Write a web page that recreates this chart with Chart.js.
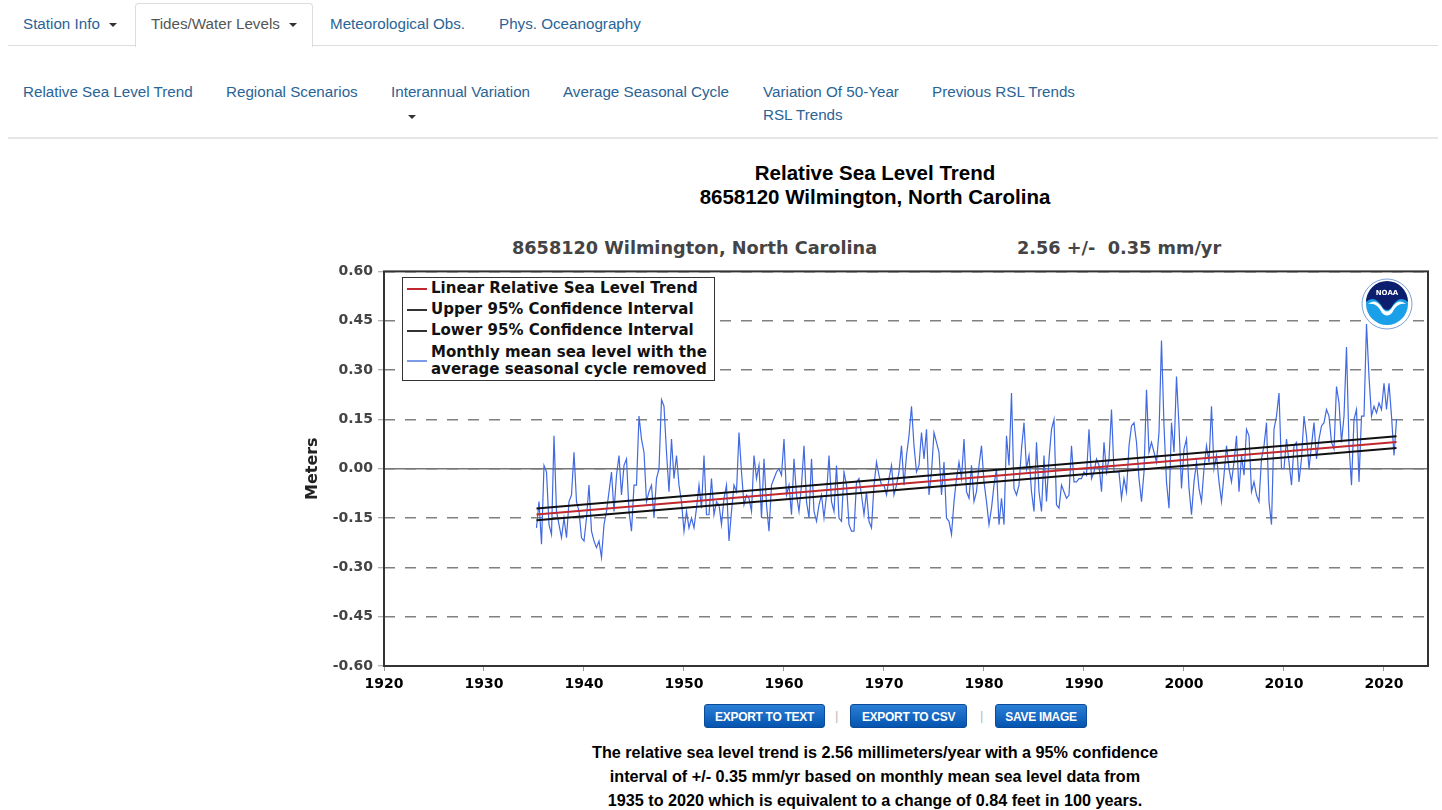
<!DOCTYPE html>
<html>
<head>
<meta charset="utf-8">
<title>Relative Sea Level Trend - 8658120 Wilmington, North Carolina</title>
<script src="https://cdn.jsdelivr.net/npm/chart.js@4.4.0/dist/chart.umd.min.js"></script>
<style>
    body { margin: 0; width: 1442px; height: 810px; position: relative; overflow: hidden; background: #fff;
           font-family: "Liberation Sans", Arial, Helvetica, sans-serif; }
    .abs { position: absolute; white-space: nowrap; }
    .nav { font-size: 15.2px; line-height: 16px; color: #2a6496; }
    .caret { position: absolute; width: 0; height: 0; border-left: 4px solid transparent;
             border-right: 4px solid transparent; border-top: 4px solid #333; }
    .rule { position: absolute; left: 8px; width: 1430px; }
    .tab { position: absolute; left: 135px; top: 3px; width: 176px; height: 43px; background: #fff;
           border: 1px solid #ddd; border-bottom: none; border-radius: 4px 4px 0 0; z-index: 2; }
    .ptitle { position: absolute; left: 475px; width: 800px; text-align: center; font-weight: bold;
              font-size: 20.5px; line-height: 22px; color: #000; }
    .sub { font-family: "DejaVu Sans", sans-serif; font-weight: bold; font-size: 17.7px; line-height: 20px; color: #444; white-space: pre; }
    #chartBox { position: absolute; left: 290px; top: 258px; width: 1150px; height: 440px; }
    #legendBox { position: absolute; left: 402px; top: 277px; width: 311px; height: 102px; background: #fff;
                 border: 1.5px solid #333; z-index: 3; font-family: "DejaVu Sans", sans-serif;
                 font-weight: bold; font-size: 15px; color: #111; }
    .lg { position: absolute; left: 28px; line-height: 17px; white-space: nowrap; }
    .sw { position: absolute; left: 4px; width: 20px; height: 2px; }
    #logo { position: absolute; left: 1361px; top: 278px; z-index: 3; }
    .btn { position: absolute; top: 704px; height: 24px; line-height: 24px; text-align: center; color: #fff;
           font-size: 12px; font-weight: bold; border-radius: 3px; letter-spacing: -0.3px;
           background: linear-gradient(#2b7fd6, #0454b0); border: 1px solid #0a4a98; box-sizing: border-box; }
    .sep { position: absolute; top: 708px; color: #bbb; font-size: 13px; }
    .note { position: absolute; left: 475px; width: 800px; top: 740px; text-align: center; font-weight: bold;
            font-size: 16.2px; line-height: 24px; color: #000; }
</style>
</head>
<body>

<!-- top navigation -->
<div class="rule" style="top:45px;height:1px;background:#ddd;"></div>
<div class="tab"></div>
<div class="abs nav" style="left:23px;top:16px;">Station Info</div>
<div class="caret" style="left:109px;top:23px;"></div>
<div class="abs nav" style="left:151px;top:16px;color:#555;z-index:3;">Tides/Water Levels</div>
<div class="caret" style="left:289px;top:23px;z-index:3;"></div>
<div class="abs nav" style="left:330px;top:16px;">Meteorological Obs.</div>
<div class="abs nav" style="left:499px;top:16px;">Phys. Oceanography</div>

<div class="abs nav" style="left:23px;top:84px;">Relative Sea Level Trend</div>
<div class="abs nav" style="left:226px;top:84px;">Regional Scenarios</div>
<div class="abs nav" style="left:391px;top:84px;">Interannual Variation</div>
<div class="caret" style="left:408px;top:115px;"></div>
<div class="abs nav" style="left:563px;top:84px;">Average Seasonal Cycle</div>
<div class="abs nav" style="left:763px;top:84px;">Variation Of 50-Year</div>
<div class="abs nav" style="left:763px;top:107px;">RSL Trends</div>
<div class="abs nav" style="left:932px;top:84px;">Previous RSL Trends</div>
<div class="rule" style="top:137px;height:2px;background:#e6e6e6;"></div>

<!-- page title -->
<div class="ptitle" style="top:162px;">Relative Sea Level Trend</div>
<div class="ptitle" style="top:186px;">8658120 Wilmington, North Carolina</div>

<!-- chart header -->
<div class="abs sub" style="left:512px;top:238px;">8658120 Wilmington, North Carolina</div>
<div class="abs sub" style="left:1017px;top:238px;">2.56 +/-  0.35 mm/yr</div>

<div id="chartBox"><canvas id="slrChart"></canvas></div>

<!-- legend inside the plot -->
<div id="legendBox">
    <div class="sw" style="top:10px;background:#c0282d;"></div>
    <div class="lg" style="top:2px;">Linear Relative Sea Level Trend</div>
    <div class="sw" style="top:31px;background:#333;"></div>
    <div class="lg" style="top:23px;">Upper 95% Confidence Interval</div>
    <div class="sw" style="top:52px;background:#333;"></div>
    <div class="lg" style="top:44px;">Lower 95% Confidence Interval</div>
    <div class="sw" style="top:82px;background:#7a9be8;"></div>
    <div class="lg" style="top:66px;">Monthly mean sea level with the<br>average seasonal cycle removed</div>
</div>

<!-- NOAA emblem -->
<svg id="logo" width="52" height="52" viewBox="0 0 52 52">
    <circle cx="26" cy="26" r="25" fill="#fff" stroke="#7aa0d8" stroke-width="1"/>
    <circle cx="26" cy="26" r="21" fill="#1aa0e8"/>
    <path d="M5 24 A21 21 0 0 1 47 24 Q38 16 30 30 Q26 34 22 30 Q14 16 5 24 Z" fill="#0b1f6e"/>
    <path d="M7 26 Q15 19 22 31 Q26 36 30 31 Q37 19 45 26 Q36 24 31 35 Q26 40 21 35 Q16 24 7 26 Z" fill="#fff"/>
    <text x="26" y="17" text-anchor="middle" font-family="DejaVu Sans" font-weight="bold" font-size="7" fill="#fff">NOAA</text>
</svg>

<!-- buttons -->
<div class="btn" style="left:704px;width:121px;">EXPORT TO TEXT</div>
<div class="sep" style="left:835px;">|</div>
<div class="btn" style="left:850px;width:117px;">EXPORT TO CSV</div>
<div class="sep" style="left:980px;">|</div>
<div class="btn" style="left:995px;width:92px;">SAVE IMAGE</div>

<div class="note">The relative sea level trend is 2.56 millimeters/year with a 95% confidence<br>interval of +/- 0.35 mm/yr based on monthly mean sea level data from<br>1935 to 2020 which is equivalent to a change of 0.84 feet in 100 years.</div>

<script>
// =====================================================
// Data
// =====================================================
const obsStartYear = 1935.25;   // first sample
const obsStepYears = 0.25;      // one value per quarter year

// Monthly mean sea level, seasonal cycle removed (meters), sampled per quarter
const seaLevel = [
    -0.18, -0.10, -0.23,  0.01, -0.01, -0.17, -0.20,  0.10, -0.13, -0.17,
    -0.21, -0.15, -0.21, -0.10, -0.08,  0.05, -0.10, -0.13, -0.21, -0.22,
    -0.15, -0.05, -0.19, -0.22, -0.24, -0.22, -0.27, -0.17, -0.13, -0.07,
    -0.01, -0.13, -0.02,  0.04, -0.08,  0.01,  0.03, -0.13, -0.19, -0.05,
    -0.05,  0.16,  0.09,  0.05, -0.10, -0.07, -0.05, -0.15, -0.03,  0.00,
     0.21,  0.19,  0.05, -0.07,  0.09, -0.03,  0.04, -0.05, -0.10, -0.19,
    -0.13, -0.18, -0.15, -0.18, -0.12, -0.05, -0.12,  0.04, -0.14, -0.14,
    -0.03, -0.14, -0.10, -0.11, -0.17, -0.09, -0.05, -0.22, -0.13, -0.05,
    -0.07,  0.11, -0.01, -0.11, -0.08, -0.09,
    -0.13,  0.04, -0.03,  0.01, -0.15,  0.03, -0.11, -0.19, -0.05, -0.03,
    -0.01,  0.00, -0.02,  0.09, -0.08, -0.05, -0.14,  0.03, -0.08, -0.13,
    -0.05,  0.07, -0.10, -0.15,  0.03, -0.13, -0.16, -0.11, -0.08, -0.15,
    -0.08,  0.04, -0.10, -0.13,  0.01, -0.15, -0.16, -0.01, -0.05, -0.17,
    -0.19, -0.19, -0.04, -0.03, -0.08, -0.14, -0.07, -0.16, -0.18, -0.05,
     0.02, -0.02, -0.05, -0.05, -0.08, -0.03,  0.01, -0.08, -0.05, -0.01,
     0.07, -0.05,  0.04,  0.10,  0.19,  0.07, -0.01,  0.01,  0.11,  0.03,
     0.12, -0.08, -0.01,  0.11,  0.08,  0.05, -0.08,  0.02, -0.15, -0.16,
    -0.20, -0.10, -0.03,  0.02, -0.03,  0.09,
    -0.07, -0.09,  0.01, -0.10, -0.07,  0.01,  0.07, -0.04, -0.10, -0.17,
    -0.12, -0.05,  0.00, -0.17, -0.09, -0.17,  0.10,  0.01,  0.23, -0.06,
    -0.08, -0.05,  0.06,  0.14,  0.00,  0.04, -0.07, -0.13,  0.08, -0.07,
    -0.13,  0.04, -0.10,  0.03,  0.12,  0.15, -0.11, -0.12, -0.05, -0.07,
    -0.09, -0.08,  0.07, -0.04, -0.04, -0.03, -0.03, -0.01, -0.02,  0.12,
    -0.03, -0.01,  0.03,  0.01, -0.07,  0.08, -0.01,  0.03,  0.18, -0.01,
    -0.01, -0.01, -0.09, -0.03, -0.07,  0.07,  0.13,  0.14,  0.08, -0.03,
    -0.10, -0.01,  0.24,  0.05,  0.08,  0.05,  0.02,  0.11,  0.39,  0.13,
    -0.04, -0.12,  0.14,  0.05,  0.28,  0.13,
    -0.06,  0.06,  0.09, -0.06, -0.14, -0.04,  0.02, -0.06, -0.10,  0.00,
     0.07,  0.02,  0.19,  0.00,  0.04, -0.04, -0.10, -0.02,  0.07,  0.00,
    -0.04,  0.02,  0.10, -0.07,  0.04, -0.02,  0.12,  0.10, -0.07, -0.04,
    -0.08, -0.10,  0.03,  0.07,  0.14, -0.10, -0.17,  0.12,  0.16,  0.23,
     0.00,  0.00,  0.09,  0.02, -0.05,  0.07,  0.08, -0.04,  0.03,  0.16,
     0.10,  0.00,  0.07,  0.14,  0.03,  0.09,  0.13,  0.14,  0.18,  0.16,
     0.08,  0.06,  0.25,  0.20,  0.08,  0.16,  0.37,  0.07, -0.05,  0.15,
     0.18, -0.04,  0.16,  0.16,  0.44,  0.28,  0.16,  0.19,  0.17,  0.20,
     0.18,  0.26,  0.18,  0.26,  0.16,  0.04,  0.15
];

// Linear trend and 95% confidence lines (meters at the first and last year)
const trendYears = [1935.25, 2021.25];
const trendLine = [-0.139, 0.081];
const upperLine = [-0.121, 0.099];
const lowerLine = [-0.157, 0.063];

// Axis ranges and ticks
const xRange = [1920, 2024.4];
const xTickYears = [1920, 1930, 1940, 1950, 1960, 1970, 1980, 1990, 2000, 2010, 2020];
const yTickValues = [-0.60, -0.45, -0.30, -0.15, 0.00, 0.15, 0.30, 0.45, 0.60];

// =====================================================
// Build datasets
// =====================================================
const seaLevelPoints = seaLevel.map((v, i) => ({ x: obsStartYear + i * obsStepYears, y: v }));
const toLine = vals => trendYears.map((yr, i) => ({ x: yr, y: vals[i] }));

// Frame round the plot area
const framePlugin = {
    id: 'plotFrame',
    afterDatasetsDraw(chart) {
        const { ctx, chartArea: a } = chart;
        ctx.save();
        ctx.strokeStyle = '#333';
        ctx.lineWidth = 2;
        ctx.strokeRect(a.left, a.top, a.right - a.left, a.bottom - a.top);
        ctx.restore();
    }
};

const tickFont = { family: 'DejaVu Sans', weight: 'bold', size: 14 };

new Chart(document.getElementById('slrChart').getContext('2d'), {
    type: 'line',
    data: {
        datasets: [
            { label: 'Linear Relative Sea Level Trend', data: toLine(trendLine), borderColor: '#c0282d', borderWidth: 2 },
            { label: 'Upper 95% Confidence Interval', data: toLine(upperLine), borderColor: '#111', borderWidth: 2 },
            { label: 'Lower 95% Confidence Interval', data: toLine(lowerLine), borderColor: '#111', borderWidth: 2 },
            { label: 'Monthly mean sea level', data: seaLevelPoints, borderColor: '#4169e1', borderWidth: 1.2 },
            { label: 'zero', data: [{ x: xRange[0], y: 0 }, { x: xRange[1], y: 0 }], borderColor: '#777', borderWidth: 1.5 }
        ]
    },
    options: {
        responsive: true,
        maintainAspectRatio: false,
        animation: false,
        parsing: false,
        layout: { padding: { top: 10, right: 12, left: 0, bottom: 0 } },
        elements: { point: { radius: 0 }, line: { tension: 0 } },
        plugins: { legend: { display: false }, tooltip: { enabled: false } },
        scales: {
            x: {
                type: 'linear',
                min: xRange[0],
                max: xRange[1],
                afterBuildTicks: s => { s.ticks = xTickYears.map(v => ({ value: v })); },
                afterFit: s => { s.height = 32; },
                ticks: { font: tickFont, color: '#000', padding: 5, maxRotation: 0, callback: v => String(v) },
                grid: { drawOnChartArea: false, drawTicks: true, tickLength: 5, tickColor: '#999' },
                border: { display: false }
            },
            y: {
                min: -0.6,
                max: 0.6,
                afterBuildTicks: s => { s.ticks = yTickValues.map(v => ({ value: v })); },
                afterFit: s => { s.width = 94; },
                ticks: { font: tickFont, color: '#444', padding: 5, callback: v => v.toFixed(2) },
                grid: { color: '#808080', lineWidth: 1.5, tickLength: 6, tickColor: '#999', tickWidth: 1 },
                border: { display: false, dash: [11, 10] },
                title: {
                    display: true, text: 'Meters', color: '#222',
                    font: { family: 'DejaVu Sans', weight: 'bold', size: 16 },
                    padding: { top: 13, bottom: 0 }
                }
            }
        }
    },
    plugins: [framePlugin]
});
</script>
</body>
</html>
